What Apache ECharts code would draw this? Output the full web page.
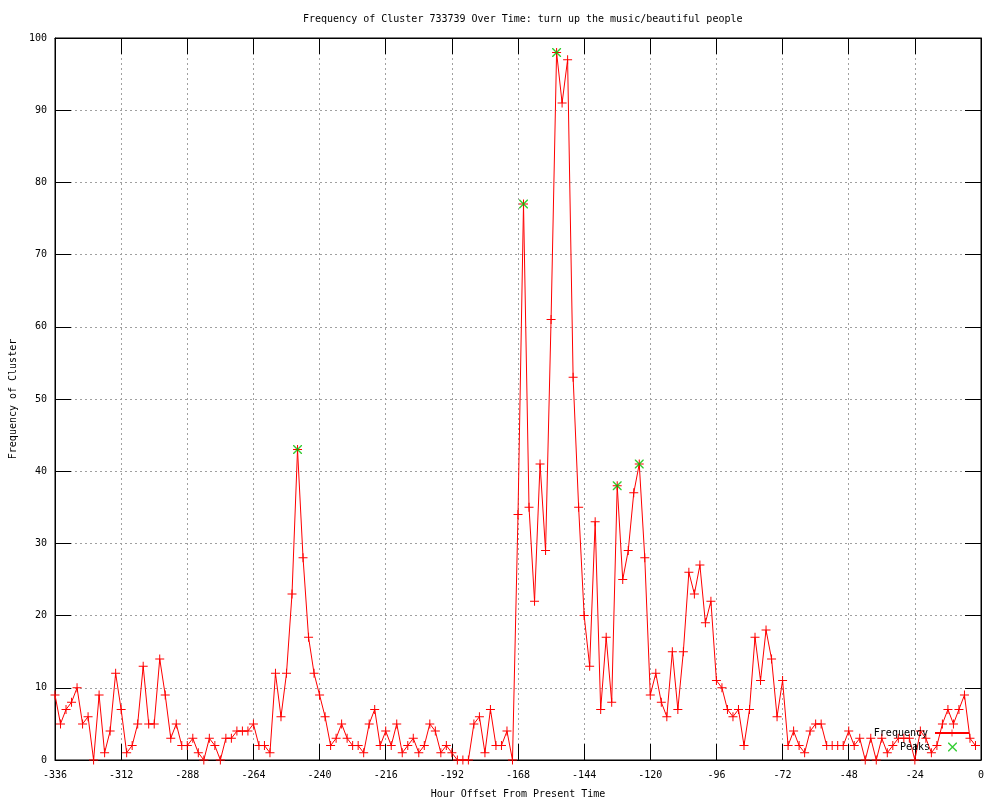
<!DOCTYPE html>
<html>
<head>
<meta charset="utf-8">
<script src="https://cdn.jsdelivr.net/npm/echarts@6/dist/echarts.min.js"></script>
<style>html,body{margin:0;padding:0;background:#fff}#c{width:1000px;height:800px}</style>
</head>
<body>
<div id="c"></div>
<script>
var titleText = 'Frequency of Cluster 733739 Over Time: turn up the music/beautiful people';
var xName = 'Hour Offset From Present Time';
var yName = 'Frequency of Cluster';
var hours = [];
for (var h = -336; h <= -2; h += 2) hours.push(h);
var frequency = [
  9,5,7,8,10,5,6,0,9,1,4,12,7,1,2,5,13,5,5,14,
  9,3,5,2,2,3,1,0,3,2,0,3,3,4,4,4,5,2,2,1,
  12,6,12,23,43,28,17,12,9,6,2,3,5,3,2,2,1,5,7,2,
  4,2,5,1,2,3,1,2,5,4,1,2,1,0,0,0,5,6,1,7,
  2,2,4,0,34,77,35,22,41,29,61,98,91,97,53,35,20,13,33,7,
  17,8,38,25,29,37,41,28,9,12,8,6,15,7,15,26,23,27,19,22,
  11,10,7,6,7,2,7,17,11,18,14,6,11,2,4,2,1,4,5,5,
  2,2,2,2,4,2,3,0,3,0,3,1,2,3,3,3,0,4,3,1,
  2,5,7,5,7,9,3,2
];
var peakHours = [-248, -166, -154, -132, -124];
var peakValues = [43, 77, 98, 38, 41];

var freqData = hours.map(function (x, i) { return [x, frequency[i]]; });
var peakData = peakHours.map(function (x, i) { return [x, peakValues[i]]; });

var FONT = 'DejaVu Sans Mono';
var plusPath = 'path://M0,4L9,4L9,5L0,5Z M4,0L5,0L5,9L4,9Z';
var crossPath = 'path://M0,0L1,0L9,8L9,9L8,9L0,1Z M8,0L9,0L9,1L1,9L0,9L0,8Z';
var gridLine = { show: true, lineStyle: { color: '#a0a0a0', width: 1, type: [2, 3] } };
var axLine = { show: true, onZero: false, lineStyle: { color: '#000', width: 1 } };
var axTick = { show: true, inside: true, length: 16, lineStyle: { color: '#000' } };

var chart = echarts.init(document.getElementById('c'), null, { renderer: 'canvas' });
chart.setOption({
  animation: false,
  backgroundColor: '#fff',
  title: {
    text: titleText, left: 298, top: 9,
    textStyle: { fontFamily: FONT, fontSize: 10, fontWeight: 'normal', color: '#000' }
  },
  grid: {
    left: 55, right: 19, top: 38, bottom: 40, containLabel: false, outerBoundsMode: 'none',
    show: true, borderColor: '#000', borderWidth: 1
  },
  legend: [
    {
      data: [{ name: 'Frequency' }], orient: 'vertical', align: 'right', right: 30, top: 728,
      padding: 0, itemWidth: 34, itemHeight: 9, itemGap: 2,
      textStyle: { fontFamily: FONT, fontSize: 10, color: '#000', padding: [0, 2, 0, 0] }
    },
    {
      data: [{ name: 'Peaks' }], orient: 'vertical', align: 'right', right: 43, top: 742,
      padding: 0, itemWidth: 9, itemHeight: 9,
      textStyle: { fontFamily: FONT, fontSize: 10, color: '#000', padding: [0, 13, 0, 0] }
    }
  ],
  xAxis: [
    {
      type: 'value', min: -336, max: 0, interval: 24, position: 'bottom',
      name: xName, nameLocation: 'middle', nameGap: 29,
      nameTextStyle: { fontFamily: FONT, fontSize: 10, color: '#000' },
      axisLine: axLine, axisTick: axTick,
      axisLabel: { fontFamily: FONT, fontSize: 10, color: '#000', margin: 10 },
      splitLine: gridLine
    },
    {
      type: 'value', min: -336, max: 0, interval: 24, position: 'top',
      axisLine: axLine, axisTick: axTick,
      axisLabel: { show: false }, splitLine: { show: false }
    }
  ],
  yAxis: [
    {
      type: 'value', min: 0, max: 100, interval: 10, position: 'left',
      name: yName, nameLocation: 'middle', nameGap: 37, nameRotate: 90,
      nameTextStyle: { fontFamily: FONT, fontSize: 10, color: '#000' },
      axisLine: axLine, axisTick: axTick,
      axisLabel: { fontFamily: FONT, fontSize: 10, color: '#000', margin: 8 },
      splitLine: gridLine
    },
    {
      type: 'value', min: 0, max: 100, interval: 10, position: 'right',
      axisLine: axLine, axisTick: axTick,
      axisLabel: { show: false }, splitLine: { show: false }
    }
  ],
  series: [
    {
      name: 'Frequency', type: 'line', xAxisIndex: 0, yAxisIndex: 0,
      data: freqData, showSymbol: true, showAllSymbol: true,
      symbol: plusPath, symbolSize: 9, clip: false,
      itemStyle: { color: '#ff0000' },
      lineStyle: { color: '#ff0000', width: 1 },
      z: 3
    },
    {
      name: 'Peaks', type: 'scatter', xAxisIndex: 0, yAxisIndex: 0,
      data: peakData, symbol: crossPath, symbolSize: 9,
      itemStyle: { color: '#00c000' },
      z: 4
    }
  ]
});
</script>
</body>
</html>
